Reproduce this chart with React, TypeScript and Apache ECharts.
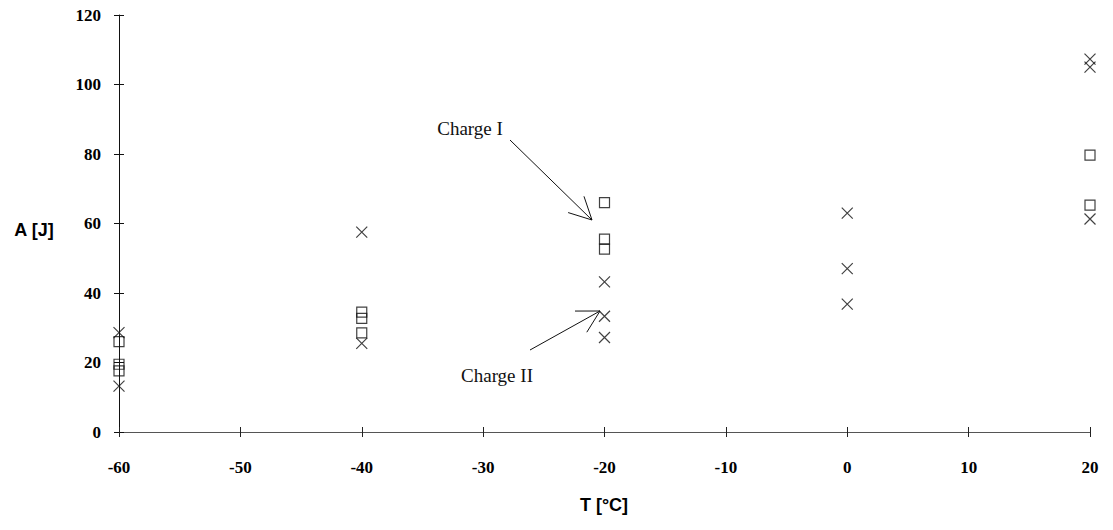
import React, { useEffect, useRef } from "react";
import * as echarts from "echarts";

// T [°C] vs A [J]
const chargeI: [number, number][] = [
  [-60, 26], [-60, 19.5], [-60, 17.6],
  [-40, 34.5], [-40, 32.7], [-40, 28.5],
  [-20, 66], [-20, 55.5], [-20, 52.6],
  [20, 79.7], [20, 65.3],
];
const chargeII: [number, number][] = [
  [-60, 28.6], [-60, 13.2],
  [-40, 57.5], [-40, 25.5],
  [-20, 43.2], [-20, 33.3], [-20, 27.2],
  [0, 63], [0, 47], [0, 36.8],
  [20, 107.3], [20, 105], [20, 61.3],
];
const xRange = { min: -60, max: 20, interval: 10 };
const yRange = { min: 0, max: 120, interval: 20 };

const labelFont = {
  fontFamily: "Liberation Serif",
  fontWeight: "bold" as const,
  fontSize: 17,
  color: "#000",
};

function arrow(from: [number, number], to: [number, number], len = 25, spread = 27) {
  const ang = Math.atan2(from[1] - to[1], from[0] - to[0]);
  const s = (spread * Math.PI) / 180;
  const p1 = [to[0] + len * Math.cos(ang + s), to[1] + len * Math.sin(ang + s)];
  const p2 = [to[0] + len * Math.cos(ang - s), to[1] + len * Math.sin(ang - s)];
  const st = { stroke: "#111", lineWidth: 1, fill: "none" };
  return [
    { type: "line", shape: { x1: from[0], y1: from[1], x2: to[0], y2: to[1] }, style: st, silent: true },
    { type: "polyline", shape: { points: [p1, to, p2] }, style: st, silent: true },
  ];
}

export default function App() {
  const ref = useRef<HTMLDivElement>(null);
  useEffect(() => {
    const chart = echarts.init(ref.current!, null, { renderer: "svg" });
    const option: any = {
      animation: false,
      backgroundColor: "#fff",
      grid: { left: 119, right: 23, top: 15, bottom: 98 },
      xAxis: [
        {
          type: "value", ...xRange,
          splitLine: { show: false },
          axisLine: { show: true, onZero: false, lineStyle: { color: "#555", width: 1 } },
          axisTick: { show: true, length: 5, lineStyle: { color: "#222" } },
          axisLabel: { ...labelFont, margin: 27 },
        },
        {
          type: "value", ...xRange, position: "bottom", offset: 0,
          splitLine: { show: false },
          axisLine: { show: false, onZero: false },
          axisTick: { show: true, inside: true, length: 5, lineStyle: { color: "#222" } },
          axisLabel: { show: false },
        },
      ],
      yAxis: [
        {
          type: "value", ...yRange,
          splitLine: { show: false },
          axisLine: { show: true, onZero: false, lineStyle: { color: "#111", width: 1 } },
          axisTick: { show: true, length: 5, lineStyle: { color: "#111" } },
          axisLabel: { ...labelFont, margin: 18 },
        },
        {
          type: "value", ...yRange, position: "left", offset: 0,
          splitLine: { show: false },
          axisLine: { show: false, onZero: false },
          axisTick: { show: true, inside: true, length: 5, lineStyle: { color: "#111" } },
          axisLabel: { show: false },
        },
      ],
      series: [
        {
          name: "Charge I",
          type: "scatter",
          data: chargeI,
          symbol: "rect",
          symbolSize: 10,
          itemStyle: { color: "transparent", borderColor: "#111", borderWidth: 1.2 },
        },
        {
          name: "Charge II",
          type: "scatter",
          data: chargeII,
          symbol: "path://M0,0L10,10M10,0L0,10",
          symbolSize: 11,
          itemStyle: { color: "transparent", borderColor: "#111", borderWidth: 1.2 },
        },
      ],
      graphic: [
        {
          type: "text", x: 34, y: 230,
          style: { text: "A [J]", font: "bold 18px 'Liberation Sans'", fill: "#000", align: "center", verticalAlign: "middle" },
        },
        {
          type: "text", x: 604, y: 505,
          style: { text: "T [°C]", font: "bold 18px 'Liberation Sans'", fill: "#000", align: "center", verticalAlign: "middle" },
        },
        {
          type: "text", x: 470, y: 128,
          style: { text: "Charge I", font: "19px 'Liberation Serif'", fill: "#111", align: "center", verticalAlign: "middle" },
        },
        {
          type: "text", x: 497, y: 375,
          style: { text: "Charge II", font: "19px 'Liberation Serif'", fill: "#111", align: "center", verticalAlign: "middle" },
        },
        ...arrow([510, 140], [592, 220]),
        ...arrow([530, 350], [600, 311], 25, 29),
      ],
    };
    chart.setOption(option);
    return () => chart.dispose();
  }, []);
  return (
    <div
      ref={ref}
      style={{ position: "fixed", left: 0, top: 0, width: 1113, height: 530, background: "#fff" }}
    />
  );
}
